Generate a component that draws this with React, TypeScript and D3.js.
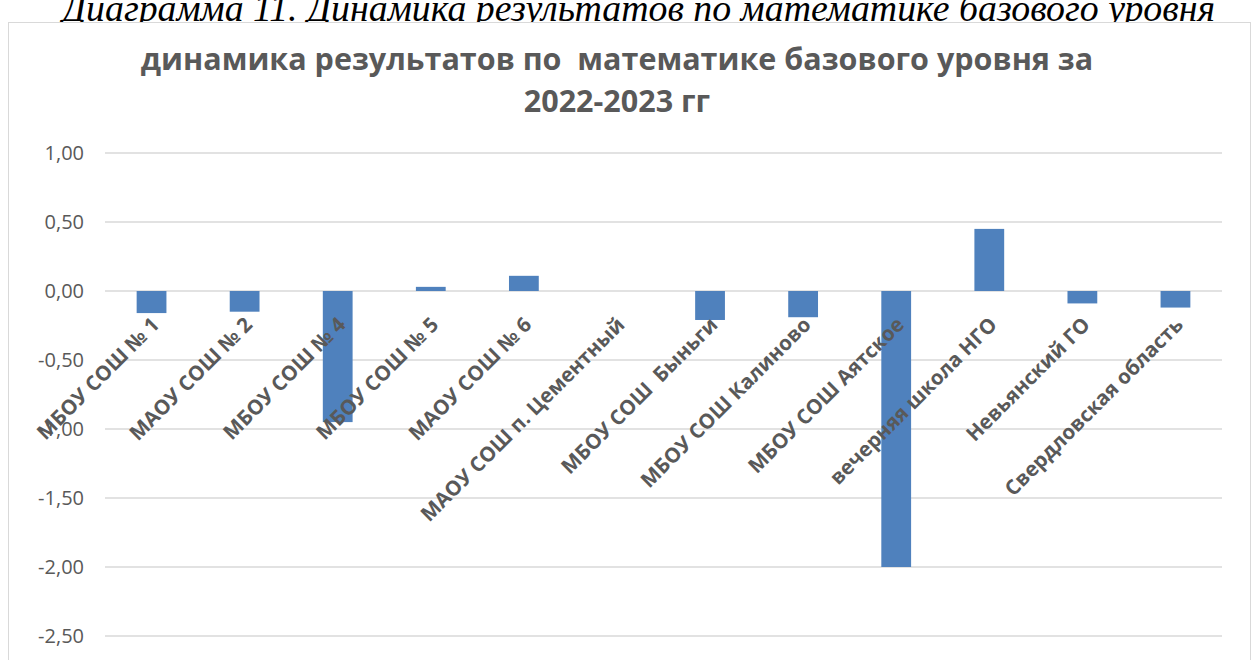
import React from "react";
import * as d3 from "d3";

const categories = [
  "МБОУ СОШ № 1",
  "МАОУ СОШ № 2",
  "МБОУ СОШ № 4",
  "МБОУ СОШ № 5",
  "МАОУ СОШ № 6",
  "МАОУ СОШ п. Цементный",
  "МБОУ СОШ  Быньги",
  "МБОУ СОШ Калиново",
  "МБОУ СОШ Аятское",
  "вечерняя школа НГО",
  "Невьянский ГО",
  "Свердловская область",
];
const values = [-0.16, -0.15, -0.95, 0.03, 0.11, 0, -0.21, -0.19, -2.0, 0.45, -0.09, -0.12];
const yTicks = [1, 0.5, 0, -0.5, -1, -1.5, -2, -2.5];
const titleLines = ["динамика результатов по  математике базового уровня за", "2022-2023 гг"];
const captionText = "Диаграмма 11. Динамика результатов по математике базового уровня";

const W = 1251;
const H = 660;

export default function App() {
  const x = d3.scaleBand<string>().domain(categories).range([105, 1222]).paddingInner(0.68).paddingOuter(0.34);
  const y = d3.scaleLinear().domain([-2.5, 1]).range([636, 153]);
  const fmt = (v: number) => d3.format(".2f")(v).replace(".", ",").replace("−", "-");
  const gray = "#595959";

  return (
    <svg width={W} height={H} style={{ position: "absolute", left: 0, top: 0, background: "#fff" }}>
      <text
        x={62}
        y={21}
        fontFamily="'Liberation Serif', 'DejaVu Serif', serif"
        fontStyle="italic"
        fontSize={37}
        fill="#000"
        textLength={1153}
        lengthAdjust="spacingAndGlyphs"
      >
        {captionText}
      </text>
      <rect x={8.5} y={22.5} width={1242} height={660} fill="#fff" stroke="#d9d9d9" strokeWidth={1} />
      <g fontFamily="'Open Sans', sans-serif" fontWeight="bold" fill={gray} textAnchor="middle">
        <text x={617} y={70} fontSize={30.5} style={{ whiteSpace: "pre" }}>{titleLines[0]}</text>
        <text x={617} y={112} fontSize={30.5}>{titleLines[1]}</text>
      </g>
      <g>
        {yTicks.map((t) => (
          <g key={t}>
            <line x1={105} x2={1222} y1={y(t)} y2={y(t)} stroke="#d9d9d9" strokeWidth={1.5} />
            <text
              x={84}
              y={y(t)}
              dy="0.35em"
              textAnchor="end"
              fontFamily="'Open Sans', sans-serif"
              fontSize={20}
              fill={gray}
            >
              {fmt(t)}
            </text>
          </g>
        ))}
      </g>
      <g>
        {categories.map((c, i) => {
          const v = values[i];
          const y0 = y(0);
          const yv = y(v);
          return (
            <rect
              key={c}
              x={x(c)}
              y={Math.min(y0, yv)}
              width={x.bandwidth()}
              height={Math.abs(yv - y0)}
              fill="#4f81bd"
            />
          );
        })}
      </g>
      <g fontFamily="'Open Sans', sans-serif" fontWeight="bold" fontSize={20.5} fill={gray}>
        {categories.map((c) => {
          const cx = (x(c) as number) + x.bandwidth() / 2;
          return (
            <text key={c} textAnchor="end" transform={`translate(${cx + 9},${y(0) + 35}) rotate(-45)`} style={{ whiteSpace: "pre" }}>
              {c}
            </text>
          );
        })}
      </g>
    </svg>
  );
}
